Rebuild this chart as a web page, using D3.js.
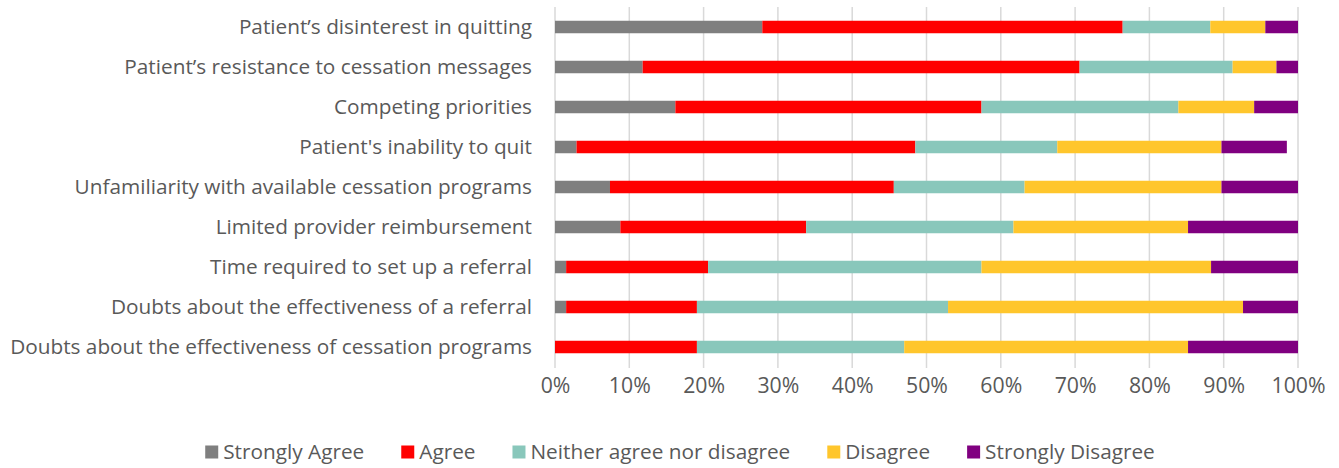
<!DOCTYPE html>
<html>
<head>
<meta charset="utf-8">
<script src="https://cdn.jsdelivr.net/npm/d3@7"></script>
<style>
  html, body { margin: 0; padding: 0; background: #fff; }
  svg { display: block; }
  text { font-family: "Open Sans", "Liberation Sans", sans-serif; fill: #595959; }
</style>
</head>
<body>
<svg id="chart" width="1339" height="468"></svg>
<script>
// Survey statements (top to bottom)
const categories = [
  "Patient\u2019s disinterest in quitting",
  "Patient\u2019s resistance to cessation messages",
  "Competing priorities",
  "Patient's inability to quit",
  "Unfamiliarity with available cessation programs",
  "Limited provider reimbursement",
  "Time required to set up a referral",
  "Doubts about the effectiveness of a referral",
  "Doubts about the effectiveness of cessation programs"
];

// Response categories
const seriesNames = ["Strongly Agree", "Agree", "Neither agree nor disagree", "Disagree", "Strongly Disagree"];
const seriesColors = ["#7f7f7f", "#ff0000", "#89c7bb", "#ffc62c", "#800080"];

// Share of respondents (%) per statement, one array per response
const stronglyAgree    = [27.9, 11.8, 16.2,  2.9,  7.4,  8.8,  1.5,  1.5,  0.0];
const agree            = [48.5, 58.8, 41.2, 45.6, 38.2, 25.0, 19.1, 17.6, 19.1];
const neither          = [11.8, 20.6, 26.5, 19.1, 17.6, 27.9, 36.8, 33.8, 27.9];
const disagree         = [ 7.4,  5.9, 10.2, 22.1, 26.5, 23.5, 30.9, 39.7, 38.2];
const stronglyDisagree = [ 4.4,  2.9,  5.9,  8.8, 10.3, 14.8, 11.7,  7.4, 14.8];

const tickValues = [0, 10, 20, 30, 40, 50, 60, 70, 80, 90, 100];

const seriesValues = [stronglyAgree, agree, neither, disagree, stronglyDisagree];
const rows = categories.map((c, i) => {
  const r = { category: c };
  seriesNames.forEach((s, j) => { r[s] = seriesValues[j][i]; });
  return r;
});

const svg = d3.select("#chart");

// Plot area
const plot = { left: 555, right: 1298, top: 7, bottom: 367 };

const x = d3.scaleLinear().domain([0, 100]).range([plot.left, plot.right]);
const y = d3.scaleBand().domain(categories).range([plot.top, plot.bottom])
  .paddingInner(0.6875).paddingOuter(0.34375);

// Fit the label font so the longest statement ends just left of the axis
const probe = svg.append("text").style("font-size", "20px")
  .text(categories.reduce((a, b) => a.length > b.length ? a : b));
const probeW = probe.node().getComputedTextLength();
probe.remove();
const fontSize = 20 * 522 / probeW;

// Vertical gridlines
svg.append("g")
  .selectAll("line")
  .data(tickValues)
  .join("line")
  .attr("x1", d => x(d)).attr("x2", d => x(d))
  .attr("y1", plot.top).attr("y2", plot.bottom + 1)
  .attr("stroke", "#d9d9d9")
  .attr("stroke-width", 1.5);

// Stacked bars
const stack = d3.stack().keys(seriesNames);
const layers = stack(rows);

svg.append("g")
  .selectAll("g")
  .data(layers)
  .join("g")
  .attr("fill", (d, i) => seriesColors[i])
  .selectAll("rect")
  .data(d => d)
  .join("rect")
  .attr("x", d => x(d[0]))
  .attr("width", d => Math.max(0, x(d[1]) - x(d[0])))
  .attr("y", d => y(d.data.category))
  .attr("height", y.bandwidth());

// Category labels
const yAxis = d3.axisLeft(y).tickSize(0).tickPadding(23);
const gy = svg.append("g").attr("transform", `translate(${plot.left},0)`).call(yAxis);
gy.select(".domain").remove();
gy.selectAll("text")
  .style("font-size", fontSize + "px")
  .style("font-family", null)
  .attr("fill", null);

// Percentage axis
const xAxis = d3.axisBottom(x).tickValues(tickValues).tickSize(0).tickPadding(11)
  .tickFormat(d => d + "%");
const gx = svg.append("g").attr("transform", `translate(0,${plot.bottom})`).call(xAxis);
gx.select(".domain").remove();
gx.selectAll("text")
  .style("font-size", (fontSize + 0.5) + "px")
  .style("font-family", null)
  .attr("fill", null);

// Legend
const legend = svg.append("g");
const sw = 13, gapText = 5, gapItem = 37;
let cx = 0;
seriesNames.forEach((name, i) => {
  const g = legend.append("g");
  g.append("rect").attr("x", 0).attr("y", -sw / 2).attr("width", sw).attr("height", sw)
    .attr("fill", seriesColors[i]);
  const t = g.append("text").attr("x", sw + gapText).attr("y", 0)
    .attr("dy", "0.35em").style("font-size", fontSize + "px").text(name);
  const w = sw + gapText + t.node().getComputedTextLength();
  g.attr("transform", `translate(${cx},0)`);
  cx += w + gapItem;
});
const totalW = cx - gapItem;
legend.attr("transform", `translate(${680 - totalW / 2},452)`);
</script>
</body>
</html>
